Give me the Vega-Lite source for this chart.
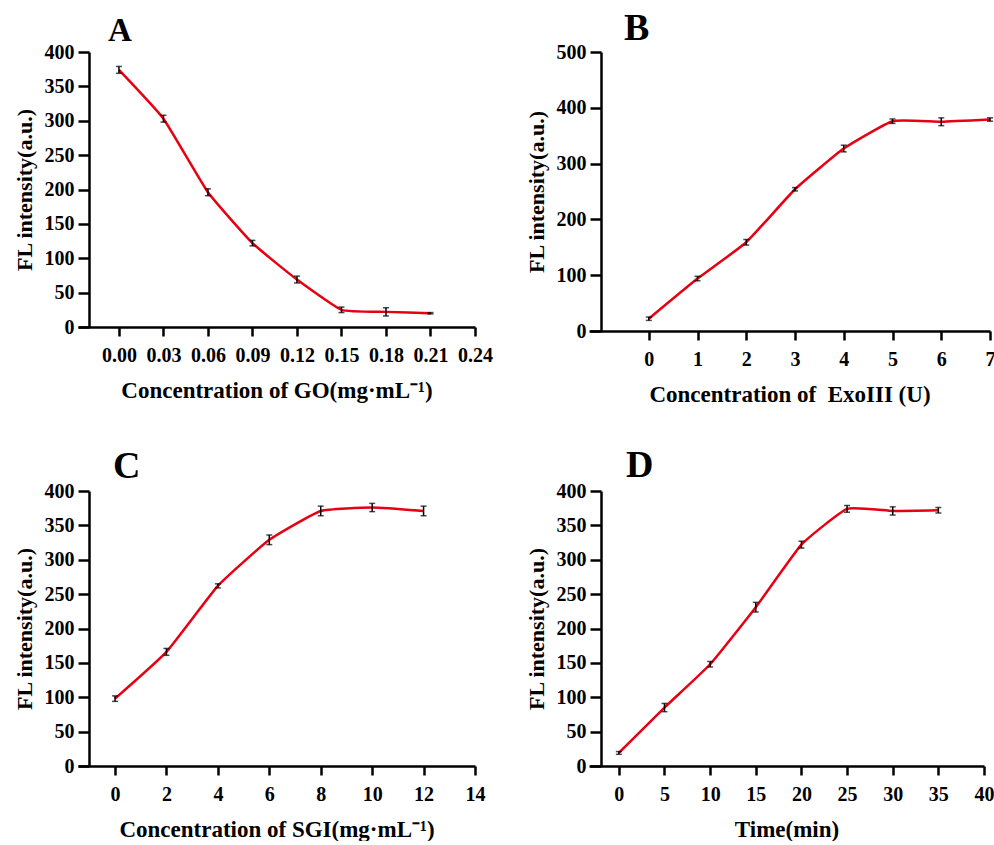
{
  "$schema": "https://vega.github.io/schema/vega-lite/v6.json",
  "background": "white",
  "padding": {"left": 13, "top": 10, "right": 0, "bottom": 0},
  "datasets": {
    "A": [
      {"x": 0.00, "y": 374, "err": 5},
      {"x": 0.03, "y": 303, "err": 5},
      {"x": 0.06, "y": 196, "err": 5},
      {"x": 0.09, "y": 122, "err": 4},
      {"x": 0.12, "y": 69, "err": 5},
      {"x": 0.15, "y": 25, "err": 4},
      {"x": 0.18, "y": 22, "err": 6},
      {"x": 0.21, "y": 20, "err": 1}
    ],
    "B": [
      {"x": 0, "y": 22, "err": 3},
      {"x": 1, "y": 94, "err": 4},
      {"x": 2, "y": 159, "err": 5},
      {"x": 3, "y": 254, "err": 3},
      {"x": 4, "y": 327, "err": 6},
      {"x": 5, "y": 376, "err": 4},
      {"x": 6, "y": 375, "err": 7},
      {"x": 7, "y": 379, "err": 3}
    ],
    "C": [
      {"x": 0, "y": 98, "err": 4},
      {"x": 2, "y": 166, "err": 5},
      {"x": 4, "y": 262, "err": 3},
      {"x": 6, "y": 329, "err": 7},
      {"x": 8, "y": 371, "err": 7},
      {"x": 10, "y": 376, "err": 6},
      {"x": 12, "y": 371, "err": 7}
    ],
    "D": [
      {"x": 0, "y": 19, "err": 2},
      {"x": 5, "y": 85, "err": 6},
      {"x": 10, "y": 148, "err": 4},
      {"x": 15, "y": 231, "err": 7},
      {"x": 20, "y": 322, "err": 5},
      {"x": 25, "y": 374, "err": 5},
      {"x": 30, "y": 371, "err": 6},
      {"x": 35, "y": 372, "err": 4}
    ]
  },
  "columns": 2,
  "spacing": {"row": 160, "column": 114},
  "bounds": "flush",
  "concat": [
    {
      "width": 397, "height": 275,
      "title": {"text": "A", "dx": 30, "offset": -6, "fontSize": 33},
      "data": {"name": "A"},
      "encoding": {
        "x": {"field": "x", "type": "quantitative", "title": "Concentration of GO(mg·mL⁻¹)",
              "scale": {"domain": [-0.0276, 0.24], "nice": false, "zero": false},
              "axis": {"values": [0, 0.03, 0.06, 0.09, 0.12, 0.15, 0.18, 0.21, 0.24], "format": ".2f"}},
        "y": {"field": "y", "type": "quantitative", "title": "FL intensity(a.u.)",
              "scale": {"domain": [0, 400], "nice": false},
              "axis": {"values": [0, 50, 100, 150, 200, 250, 300, 350, 400], "offset": -11}}
      },
      "layer": [
        {"mark": {"type": "line", "color": "#e60012", "strokeWidth": 2.5, "interpolate": "cardinal", "tension": 0.6}},
        {"mark": {"type": "errorbar", "color": "black", "thickness": 1.5, "ticks": {"size": 6}},
         "encoding": {"yError": {"field": "err"}}}
      ]
    },
    {
      "width": 401, "height": 279,
      "title": {"text": "B", "dx": 35, "offset": -6},
      "data": {"name": "B"},
      "encoding": {
        "x": {"field": "x", "type": "quantitative", "title": "Concentration of\u00a0 ExoIII (U)",
              "scale": {"domain": [-1.226, 7], "nice": false, "zero": false},
              "axis": {"values": [0, 1, 2, 3, 4, 5, 6, 7]}},
        "y": {"field": "y", "type": "quantitative", "title": "FL intensity(a.u.)",
              "scale": {"domain": [0, 500], "nice": false},
              "axis": {"values": [0, 100, 200, 300, 400, 500], "offset": -12}}
      },
      "layer": [
        {"mark": {"type": "line", "color": "#e60012", "strokeWidth": 2.5, "interpolate": "cardinal", "tension": 0.6}},
        {"mark": {"type": "errorbar", "color": "black", "thickness": 1.5, "ticks": {"size": 6}},
         "encoding": {"yError": {"field": "err"}}}
      ]
    },
    {
      "width": 397, "height": 275,
      "title": {"text": "C", "dx": 35, "offset": -5},
      "data": {"name": "C"},
      "encoding": {
        "x": {"field": "x", "type": "quantitative", "title": "Concentration of SGI(mg·mL⁻¹)",
              "scale": {"domain": [-1.44, 14], "nice": false, "zero": false},
              "axis": {"values": [0, 2, 4, 6, 8, 10, 12, 14]}},
        "y": {"field": "y", "type": "quantitative", "title": "FL intensity(a.u.)",
              "scale": {"domain": [0, 400], "nice": false},
              "axis": {"values": [0, 50, 100, 150, 200, 250, 300, 350, 400], "offset": -11}}
      },
      "layer": [
        {"mark": {"type": "line", "color": "#e60012", "strokeWidth": 2.5, "interpolate": "cardinal", "tension": 0.6}},
        {"mark": {"type": "errorbar", "color": "black", "thickness": 1.5, "ticks": {"size": 6}},
         "encoding": {"yError": {"field": "err"}}}
      ]
    },
    {
      "width": 395, "height": 275,
      "title": {"text": "D", "dx": 37, "offset": -4},
      "data": {"name": "D"},
      "encoding": {
        "x": {"field": "x", "type": "quantitative", "title": "Time(min)",
              "scale": {"domain": [-3.27, 40], "nice": false, "zero": false},
              "axis": {"values": [0, 5, 10, 15, 20, 25, 30, 35, 40]}},
        "y": {"field": "y", "type": "quantitative", "title": "FL intensity(a.u.)",
              "scale": {"domain": [0, 400], "nice": false},
              "axis": {"values": [0, 50, 100, 150, 200, 250, 300, 350, 400], "offset": -12}}
      },
      "layer": [
        {"mark": {"type": "line", "color": "#e60012", "strokeWidth": 2.5, "interpolate": "cardinal", "tension": 0.6}},
        {"mark": {"type": "errorbar", "color": "black", "thickness": 1.5, "ticks": {"size": 6}},
         "encoding": {"yError": {"field": "err"}}}
      ]
    }
  ],
  "config": {
    "view": {"stroke": null},
    "axis": {
      "grid": false,
      "domainColor": "black", "domainWidth": 2.5,
      "tickColor": "black", "tickWidth": 2.5,
      "labelFont": "Liberation Serif", "labelFontWeight": "bold", "labelFontSize": 20, "labelColor": "black",
      "labelFlush": false, "labelOverlap": false, "labelBound": false,
      "titleFont": "Liberation Serif", "titleFontWeight": "bold", "titleFontSize": 23, "titleColor": "black"
    },
    "axisX": {"tickSize": 9, "labelPadding": 9, "titlePadding": 14},
    "axisY": {"tickSize": 11, "labelPadding": 4, "titlePadding": 8, "titleFontSize": 22},
    "title": {"font": "Liberation Serif", "fontWeight": "bold", "fontSize": 38, "anchor": "start", "frame": "group", "color": "black", "baseline": "alphabetic"}
  }
}
